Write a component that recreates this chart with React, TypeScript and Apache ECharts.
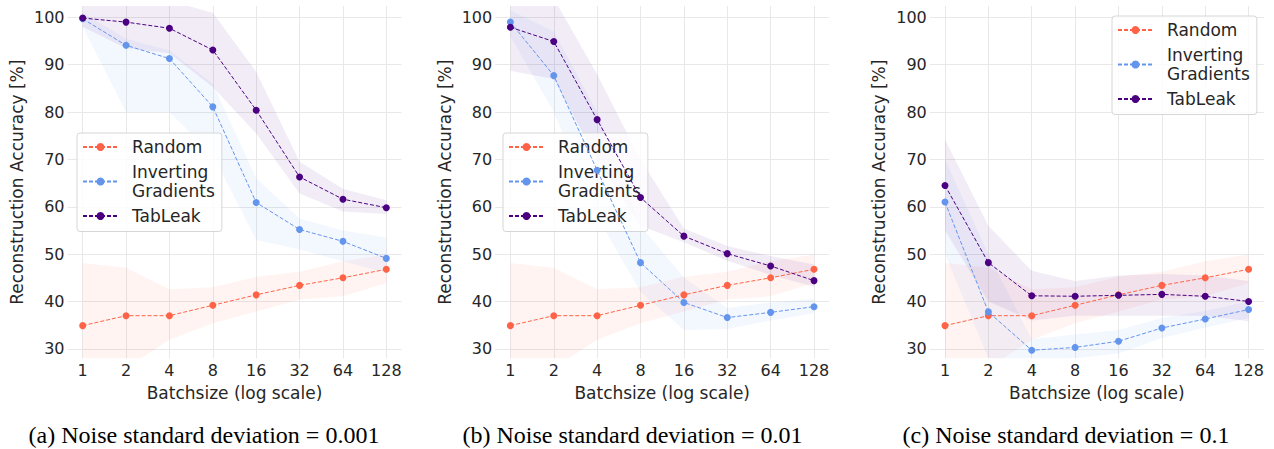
import React, { useEffect, useRef } from 'react';
import * as echarts from 'echarts';

// log2 of batch size, and their labels
const batchExp = [0, 1, 2, 3, 4, 5, 6, 7];
const batchLabels = ['1', '2', '4', '8', '16', '32', '64', '128'];
const yTicks = [30, 40, 50, 60, 70, 80, 90, 100];
const methodNames = ['Random', 'Inverting Gradients', 'TabLeak'];
const captions = [
  '(a) Noise standard deviation = 0.001',
  '(b) Noise standard deviation = 0.01',
  '(c) Noise standard deviation = 0.1',
];

// Random (same in every panel)
const randomMean = [34.9, 37.0, 37.0, 39.2, 41.4, 43.4, 45.0, 46.8];
const randomUpper = [48.1, 47.1, 42.6, 43.0, 45.2, 46.3, 48.5, 49.9];
const randomLower = [22, 26, 31.9, 35.4, 37.9, 40.4, 41.1, 43.9];

// Panel (a)
const igA = [99.7, 94.1, 91.3, 81.1, 60.9, 55.2, 52.7, 49.1];
const igAUpper = [101, 95.5, 93, 86, 66, 57.5, 55, 53.5];
const igALower = [98, 80, 80, 71, 53, 51, 48.5, 46];
const tabA = [99.85, 99.0, 97.7, 93.1, 80.4, 66.3, 61.6, 59.8];
const tabAUpper = [104, 104, 103.5, 101, 88.5, 69.5, 63.8, 61.4];
const tabALower = [98, 93.5, 92.4, 85.3, 75.5, 62.8, 59.0, 58.5];

// Panel (b)
const igB = [99.0, 87.7, 67.7, 48.2, 39.8, 36.6, 37.7, 38.9];
const igBUpper = [101.5, 97, 80, 56, 45, 38.6, 39.8, 40.5];
const igBLower = [96, 80, 58, 42, 34, 34.2, 36, 37.5];
const tabB = [97.9, 94.9, 78.4, 61.95, 53.8, 50.1, 47.5, 44.4];
const tabBUpper = [104, 104, 88, 70, 55.4, 51.7, 49.6, 47.8];
const tabBLower = [88.7, 87, 70, 56, 52.5, 48.6, 45.6, 43.1];

// Panel (c)
const igC = [61.0, 37.8, 29.7, 30.3, 31.6, 34.4, 36.3, 38.3];
const igCUpper = [70, 50, 32, 33, 34, 36.5, 38, 40];
const igCLower = [50, 28, 27.5, 28, 29, 32.3, 34.5, 36.5];
const tabC = [64.5, 48.2, 41.2, 41.1, 41.3, 41.5, 41.1, 40.0];
const tabCUpper = [74.2, 56, 46.5, 44.3, 45.5, 45.8, 45.5, 44.3];
const tabCLower = [55, 40, 36, 37, 37, 37, 37, 35.8];

const colors = ['#ff6347', '#6495ed', '#4b0082'];
const bandAlpha = ['rgba(255,99,71,0.07)', 'rgba(100,149,237,0.08)', 'rgba(75,0,130,0.075)'];

const panels = [
  { mean: [randomMean, igA, tabA], up: [randomUpper, igAUpper, tabAUpper], lo: [randomLower, igALower, tabALower] },
  { mean: [randomMean, igB, tabB], up: [randomUpper, igBUpper, tabBUpper], lo: [randomLower, igBLower, tabBLower] },
  { mean: [randomMean, igC, tabC], up: [randomUpper, igCUpper, tabCUpper], lo: [randomLower, igCLower, tabCLower] },
];

const gridLefts = [67.5, 495.2, 929.8];
const gridWidth = 334;
const gridTop = 6;
const gridHeight = 352.3;
const legendPos = [
  { left: 77, top: 133 },
  { left: 503, top: 133 },
  { left: 1112, top: 16 },
];
const captionCenters = [204, 632.5, 1066];

const FONT = 'DejaVu Sans';
const TEXT = '#262626';

export default function App() {
  const ref = useRef<HTMLDivElement>(null);
  useEffect(() => {
    if (!ref.current) return;
    const chart = echarts.init(ref.current, undefined, { renderer: 'svg' });

    const series: any[] = [];
    panels.forEach((pn, p) => {
      for (let m = 0; m < 3; m++) {
        const lo = pn.lo[m];
        const up = pn.up[m];
        series.push({
          type: 'custom',
          name: `band-${p}-${m}`,
          xAxisIndex: p,
          yAxisIndex: p,
          clip: true,
          silent: true,
          z: 1,
          data: batchExp.map((x, i) => [x, lo[i], up[i]]),
          encode: { x: 0, y: [1, 2] },
          renderItem: (params: any, api: any) => {
            if (params.dataIndex !== 0) return null;
            const top = batchExp.map((x, i) => api.coord([x, up[i]]));
            const bot = batchExp.map((x, i) => api.coord([x, lo[i]])).reverse();
            return {
              type: 'polygon',
              shape: { points: top.concat(bot) },
              style: { fill: bandAlpha[m], stroke: null },
            };
          },
        });
      }
      for (let m = 0; m < 3; m++) {
        series.push({
          type: 'line',
          name: methodNames[m],
          xAxisIndex: p,
          yAxisIndex: p,
          z: 3 + m,
          data: batchExp.map((x, i) => [x, pn.mean[m][i]]),
          symbol: 'circle',
          symbolSize: 7,
          itemStyle: { color: colors[m] },
          lineStyle: { color: colors[m], width: 1, type: [4, 2] },
        });
      }
    });

    const option: any = {
      animation: false,
      backgroundColor: '#ffffff',
      textStyle: { fontFamily: FONT },
      grid: gridLefts.map((l) => ({ left: l, top: gridTop, width: gridWidth, height: gridHeight })),
      xAxis: gridLefts.map((_, p) => ({
        type: 'value',
        gridIndex: p,
        min: -0.35,
        max: 7.35,
        name: 'Batchsize (log scale)',
        nameLocation: 'middle',
        nameGap: 26,
        nameTextStyle: { fontSize: 17, color: TEXT, fontFamily: FONT, verticalAlign: 'top' },
        axisLine: { show: false },
        axisTick: { show: false, customValues: batchExp },
        splitLine: { show: true, lineStyle: { color: '#e8e8e8', width: 1 } },
        axisLabel: {
          customValues: batchExp,
          formatter: (v: number) => batchLabels[Math.round(v)],
          fontSize: 16,
          color: TEXT,
          fontFamily: FONT,
          margin: 4,
        },
      })),
      yAxis: gridLefts.map((_, p) => ({
        type: 'value',
        gridIndex: p,
        min: 28,
        max: 102.4,
        name: 'Reconstruction Accuracy [%]',
        nameLocation: 'middle',
        nameGap: 42,
        nameTextStyle: { fontSize: 17, color: TEXT, fontFamily: FONT },
        axisLine: { show: false },
        axisTick: { show: false, customValues: yTicks },
        splitLine: { show: true, lineStyle: { color: '#e8e8e8', width: 1 } },
        axisLabel: {
          customValues: yTicks,
          fontSize: 16,
          color: TEXT,
          fontFamily: FONT,
          margin: 3,
        },
      })),
      legend: legendPos.map((lp) => ({
        data: methodNames,
        orient: 'vertical',
        left: lp.left,
        top: lp.top,
        itemWidth: 35,
        itemHeight: 10,
        itemGap: 6,
        padding: [4.5, 7, 6, 5],
        backgroundColor: 'rgba(255,255,255,0.8)',
        borderColor: '#d6d6d6',
        borderWidth: 1,
        borderRadius: 3,
        selectedMode: false,
        formatter: (name: string) => (name === 'Inverting Gradients' ? 'Inverting\nGradients' : name),
        textStyle: { fontSize: 17, lineHeight: 19, color: TEXT, fontFamily: FONT, padding: [0, 0, 0, 9] },
      })),
      graphic: captions.map((c, i) => ({
        type: 'text',
        x: captionCenters[i],
        y: 435,
        style: {
          text: c,
          font: '24px "Liberation Serif", "Times New Roman", serif',
          fill: '#000',
          textAlign: 'center',
          textVerticalAlign: 'middle',
        },
      })),
      series,
    };
    chart.setOption(option);
    return () => chart.dispose();
  }, []);

  return (
    <div
      ref={ref}
      style={{ position: 'fixed', left: 0, top: 0, width: 1274, height: 449 }}
    />
  );
}
